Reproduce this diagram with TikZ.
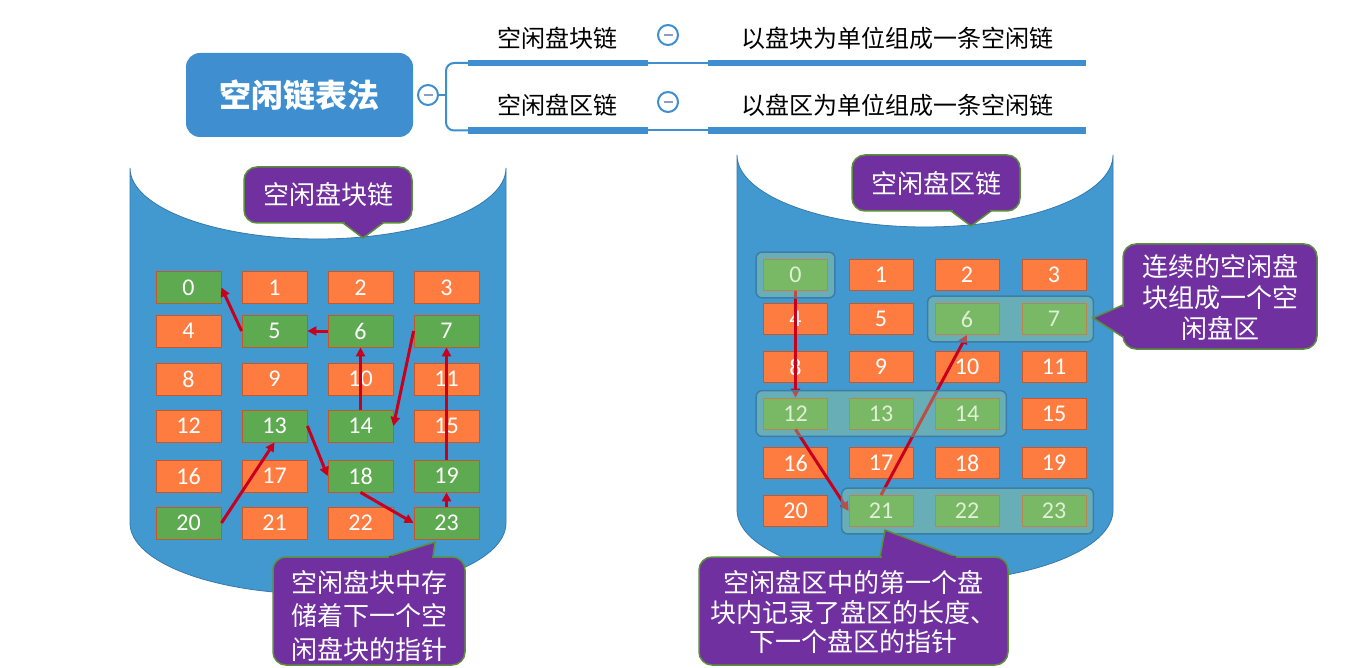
\documentclass[tikz,border=0pt]{standalone}
\usepackage{fontspec}
\setmainfont{Carlito}
\newfontfamily\cjk{Noto Sans CJK SC}
\usetikzlibrary{arrows.meta,fit}
\definecolor{cylblue}{HTML}{4299D0}
\definecolor{cylborder}{HTML}{3779AE}
\definecolor{mmblue}{HTML}{3E8ED0}
\definecolor{cpurple}{HTML}{7030A0}
\definecolor{cgreenb}{HTML}{5B8F3C}
\definecolor{cellgreen}{HTML}{5EAA50}
\definecolor{cellorange}{HTML}{FF7C41}
\definecolor{cellborder}{HTML}{C5582A}
\definecolor{arrred}{HTML}{C8001E}
\definecolor{grpfill}{HTML}{AAD48C}
\definecolor{grpborder}{HTML}{3B7DA8}
\definecolor{minusgray}{HTML}{8E9CC2}
\begin{document}
\begin{tikzpicture}[x=1pt,y=-1pt,
  cell/.style={draw=cellborder,line width=0.8pt,minimum width=65pt,minimum height=32pt,inner sep=0pt,text=white,font=\fontsize{24}{24}\selectfont},
  gcell/.style={cell,fill=cellgreen},
  ocell/.style={cell,fill=cellorange},
  rgcell/.style={gcell,minimum width=64pt,minimum height=31pt},
  rocell/.style={ocell,minimum width=64pt,minimum height=31pt},
  cyl/.style={fill=cylblue,draw=cylborder,line width=0.8pt},
  callout/.style={fill=cpurple,draw=cgreenb,line width=1.5pt,line join=miter},
  cbox/.style={callout,rounded corners=13pt},
  cpatch/.style={fill=cpurple},
  ctext/.style={text=white,font=\cjk\fontsize{26}{30}\selectfont,align=center,inner sep=0pt},
  arr/.style={draw=arrred,line width=3pt,-{Triangle[length=9pt,width=9pt]}},
  grp/.style={draw=grpborder,line width=1.5pt,fill=grpfill,fill opacity=0.36,rounded corners=6pt,inner sep=7pt},
  mmcirc/.style={circle,draw=mmblue,line width=2pt,fill=white,minimum size=20pt,inner sep=0pt,
    path picture={\draw[minusgray,line width=2pt] ([xshift=-4.5pt]path picture bounding box.center) -- ([xshift=4.5pt]path picture bounding box.center);}},
  mmtext/.style={font=\cjk\fontsize{24}{24}\selectfont,text=black,inner sep=0pt},
  mmline/.style={draw=mmblue,line width=2pt},
  mmbar/.style={draw=mmblue,line width=6.5pt}
]
\fill[white] (0,0) rectangle (1367,668);
\useasboundingbox (0,0) rectangle (1367,668);

% ---------- mind map ----------
\node[fill=mmblue,rounded corners=14pt,minimum width=227pt,minimum height=84pt,text=white,
  font=\cjk\bfseries\fontsize{32}{32}\selectfont] (main) at (299.5,95) {空闲链表法};
\node[mmcirc] (c0) at (428,95) {};
\coordinate (bt) at (468,63);
\coordinate (bb) at (468,130.5);
\draw[mmline] (c0.east) -- (446,95);
\draw[mmline,rounded corners=8pt] (bt) -- (446,63) -- (446,130.5) -- (bb);
\coordinate (bt2) at (648,63);
\coordinate (bb2) at (648,130.5);
\coordinate (dt) at (708,63);
\coordinate (db) at (708,130.5);
\coordinate (dte) at (1086,63);
\coordinate (dbe) at (1086,130.5);
\draw[mmbar] (bt) -- (bt2);
\draw[mmbar] (bb) -- (bb2);
\draw[mmline] (bt2) -- (dt);
\draw[mmline] (bb2) -- (db);
\draw[mmbar] (dt) -- (dte);
\draw[mmbar] (db) -- (dbe);
\node[mmtext] (b1) at (557,38) {空闲盘块链};
\node[mmtext] (b2) at (557,105) {空闲盘区链};
\node[mmcirc] (c1) at (668,35) {};
\node[mmcirc] (c2) at (668,102) {};
\node[mmtext] (d1) at (897,38) {以盘块为单位组成一条空闲链};
\node[mmtext] (d2) at (897,105) {以盘区为单位组成一条空闲链};

% ---------- cylinders ----------
\path[cyl] (130,523) .. controls (130,562.2) and (214.2,594) .. (318,594)
  .. controls (421.8,594) and (506,562.2) .. (506,523) -- (506,168)
  .. controls (506,207.2) and (421.8,239) .. (318,239)
  .. controls (214.2,239) and (130,207.2) .. (130,168) -- cycle;
\path[cyl] (737,510) .. controls (737,549.8) and (821.2,582) .. (925,582)
  .. controls (1028.8,582) and (1113,549.8) .. (1113,510) -- (1113,155)
  .. controls (1113,194.8) and (1028.8,227) .. (925,227)
  .. controls (821.2,227) and (737,194.8) .. (737,155) -- cycle;

% ---------- left cells ----------
\foreach \n/\s in {0/gcell,1/ocell,2/ocell,3/ocell,4/ocell,5/gcell,6/gcell,7/gcell,8/ocell,9/ocell,10/ocell,11/ocell,12/ocell,13/gcell,14/gcell,15/ocell,16/ocell,17/ocell,18/gcell,19/gcell,20/gcell,21/ocell,22/ocell,23/gcell}{
  \pgfmathtruncatemacro{\cc}{mod(\n,4)}
  \pgfmathtruncatemacro{\rr}{int(\n/4)}
  \pgfmathsetmacro{\xx}{{188.5,274.5,360.5,446.5}[\cc]}
  \pgfmathsetmacro{\yy}{{287.5,331,379,426,476,523}[\rr]}
  \node[\s] (L\n) at (\xx,\yy) {\n};
}
% ---------- right cells ----------
\foreach \n/\s in {0/rgcell,1/rocell,2/rocell,3/rocell,4/rocell,5/rocell,6/rgcell,7/rgcell,8/rocell,9/rocell,10/rocell,11/rocell,12/rgcell,13/rgcell,14/rgcell,15/rocell,16/rocell,17/rocell,18/rocell,19/rocell,20/rocell,21/rgcell,22/rgcell,23/rgcell}{
  \pgfmathtruncatemacro{\cc}{mod(\n,4)}
  \pgfmathtruncatemacro{\rr}{int(\n/4)}
  \pgfmathsetmacro{\xx}{{795.5,881,967,1054}[\cc]}
  \pgfmathsetmacro{\yy}{{275,319,367,413.5,463,511}[\rr]}
  \node[\s] (R\n) at (\xx,\yy) {\n};
}

% ---------- left arrows ----------
\draw[arr] (L5.west) -- (L0.east);
\draw[arr] (L6.west) -- (L5.east);
\draw[arr] (L14.north) -- (L6.south);
\draw[arr] (L7.west) -- (L14.east);
\draw[arr] (L19.north) -- (L7.south);
\draw[arr] (L23.north) -- (L19.south);
\draw[arr] (L18.south) -- (L23.west);
\draw[arr] (L13.east) -- (L18.west);
\draw[arr] (L20.east) -- (L13.south);

% ---------- right arrows ----------
\draw[arr] (R0.south) -- (R12.north);
\draw[arr] (R12.south) -- (R21.west);
\draw[arr] (R21.north) -- (R6.south);

% ---------- groups ----------
\node[grp,fit=(R0)] (G0) {};
\node[grp,fit=(R6)(R7)] (G1) {};
\node[grp,fit=(R12)(R14)] (G2) {};
\node[grp,fit=(R21)(R23)] (G3) {};

% ---------- callouts ----------
% left title
\draw[callout] (343,223) -- (363,238) -- (383,223) -- cycle;
\draw[cbox] (244,167) rectangle (412,223);
\fill[cpatch] (344.5,221.5) rectangle (381.5,224.5);
\node[ctext] (LTt) at (328,195) {空闲盘块链};
% right title
\draw[callout] (951,211) -- (971,226) -- (991,211) -- cycle;
\draw[cbox] (852,155) rectangle (1020,211);
\fill[cpatch] (952.5,209.5) rectangle (989.5,212.5);
\node[ctext] (RTt) at (936,183) {空闲盘区链};
% right side
\draw[callout] (1123,305) -- (1093,318) -- (1123,337) -- cycle;
\draw[cbox] (1123,244) rectangle (1317,349);
\fill[cpatch] (1121.5,306.5) rectangle (1124.5,335.5);
\node[ctext,font=\cjk\fontsize{26}{31}\selectfont] (RSt) at (1220,297) {连续的空闲盘\\块组成一个空\\闲盘区};
% left bottom
\draw[callout] (387,557) -- (435,542) -- (433,557) -- cycle;
\draw[cbox] (273,557) rectangle (465,665);
\fill[cpatch] (388.5,555.5) rectangle (431.5,558.5);
\node[ctext,font=\cjk\fontsize{26}{33.5}\selectfont] (LBt) at (369,616) {空闲盘块中存\\储着下一个空\\闲盘块的指针};
% right bottom
\draw[callout] (880,557) -- (885,530) -- (957,557) -- cycle;
\draw[cbox] (699,557) rectangle (1008,665);
\fill[cpatch] (881.5,555.5) rectangle (955.5,558.5);
\node[ctext,font=\cjk\fontsize{26}{29.5}\selectfont] (RBt) at (853,612) {空闲盘区中的第一个盘\\块内记录了盘区的长度、\\下一个盘区的指针};
\end{tikzpicture}
\end{document}
